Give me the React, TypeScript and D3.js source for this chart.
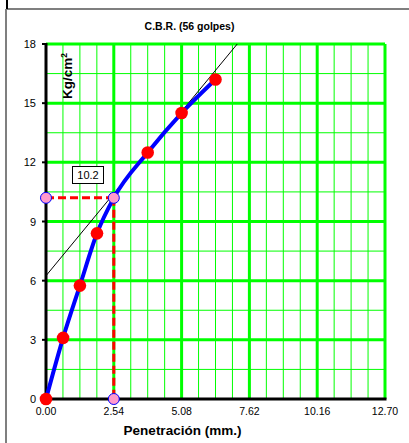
import React from "react";
import * as d3 from "d3";

// CBR test readings: penetration (mm) vs. load (kg/cm²)
const penetration = [0, 0.64, 1.27, 1.91, 3.81, 5.08, 6.35];
const load = [0, 3.1, 5.75, 8.4, 12.5, 14.5, 16.2];

// Value read at the 2.54 mm standard penetration
const cbrPenetration = 2.54;
const cbrLoad = 10.2;

// Corrected tangent line: load = intercept + slope * penetration
const tangentIntercept = 6.25;
const tangentSlope = 1.64;

const xTicks = [0, 2.54, 5.08, 7.62, 10.16, 12.7];
const yTicks = [0, 3, 6, 9, 12, 15, 18];
const xMinorStep = 0.635;
const yMinorStep = 1.5;

const title = "C.B.R. (56 golpes)";
const xTitle = "Penetración (mm.)";

const W = 409;
const H = 443;
const left = 46;
const right = 385;
const top = 44;
const bottom = 399;

const GREEN = "#00ff00";
const FONT = "'Liberation Sans', Arial, sans-serif";

export default function App() {
  const x = d3.scaleLinear().domain([0, 12.7]).range([left, right]);
  const y = d3.scaleLinear().domain([0, 18]).range([bottom, top]);

  const minorX = d3.range(0, 12.7 + 1e-6, xMinorStep).filter(
    (v) => !xTicks.some((t) => Math.abs(t - v) < 1e-6)
  );
  const minorY = d3.range(0, 18 + 1e-6, yMinorStep).filter(
    (v) => !yTicks.some((t) => Math.abs(t - v) < 1e-6)
  );

  // Blue curve passes through the readings and the 2.54 mm value
  const curvePts: [number, number][] = penetration
    .map((p, i) => [p, load[i]] as [number, number])
    .concat([[cbrPenetration, cbrLoad]])
    .sort((a, b) => a[0] - b[0]);
  const curve = d3
    .line<[number, number]>()
    .x((d) => x(d[0]))
    .y((d) => y(d[1]))
    .curve(d3.curveMonotoneX)(curvePts) as string;

  // Tangent line clipped to the plot
  const tx0 = 0;
  const ty0 = tangentIntercept;
  const tx1 = (18 - tangentIntercept) / tangentSlope;
  const ty1 = 18;

  return (
    <svg
      width={W}
      height={H}
      style={{ position: "absolute", left: 0, top: 0, background: "#fff" }}
      fontFamily={FONT}
    >
      {/* sheet frame */}
      <line x1={6} y1={9} x2={W} y2={9} stroke="#7f7f7f" strokeWidth={2} />
      <line x1={6} y1={9} x2={6} y2={H} stroke="#7f7f7f" strokeWidth={2} />
      <line x1={7} y1={0} x2={7} y2={9} stroke="#000" strokeWidth={2} />

      <text x={189.5} y={30} textAnchor="middle" fontSize={10.5} fontWeight="bold" fill="#000">
        {title}
      </text>

      {/* minor grid */}
      {minorX.map((v) => (
        <line key={"mx" + v} x1={x(v)} x2={x(v)} y1={top} y2={bottom} stroke={GREEN} strokeWidth={1} />
      ))}
      {minorY.map((v) => (
        <line key={"my" + v} x1={left} x2={right} y1={y(v)} y2={y(v)} stroke={GREEN} strokeWidth={1} />
      ))}
      {/* major grid */}
      {xTicks.slice(1).map((v) => (
        <line key={"Mx" + v} x1={x(v)} x2={x(v)} y1={top} y2={bottom} stroke={GREEN} strokeWidth={3} />
      ))}
      {yTicks.slice(1).map((v) => (
        <line key={"My" + v} x1={left} x2={right} y1={y(v)} y2={y(v)} stroke={GREEN} strokeWidth={3} />
      ))}

      {/* axes */}
      <line x1={left} x2={left} y1={top - 1} y2={bottom + 1.5} stroke="#000" strokeWidth={3} />
      <line x1={left - 1.5} x2={right + 1.5} y1={bottom} y2={bottom} stroke="#000" strokeWidth={3} />

      {yTicks.map((v) => (
        <g key={"yt" + v}>
          <line x1={left - 4} x2={left} y1={y(v)} y2={y(v)} stroke="#000" strokeWidth={2} />
          <text x={36} y={y(v) + 4} textAnchor="end" fontSize={11} fill="#000">
            {v}
          </text>
        </g>
      ))}
      {xTicks.map((v) => (
        <text key={"xt" + v} x={x(v)} y={415} textAnchor="middle" fontSize={10.5} fill="#000">
          {v.toFixed(2)}
        </text>
      ))}

      <text x={182.5} y={435} textAnchor="middle" fontSize={13.5} fontWeight="bold" fill="#000">
        {xTitle}
      </text>
      <text
        transform={`translate(72,76) rotate(-90)`}
        textAnchor="middle"
        fontSize={13.5}
        fontWeight="bold"
        fill="#000"
      >
        Kg/cm<tspan dy={-5} fontSize={8.5}>2</tspan>
      </text>

      {/* tangent line */}
      <line x1={x(tx0)} y1={y(ty0)} x2={x(tx1)} y2={y(ty1)} stroke="#000" strokeWidth={1} />

      {/* load curve */}
      <path d={curve} fill="none" stroke="#0000ff" strokeWidth={4} strokeLinejoin="round" />

      {/* reading guides at 2.54 mm */}
      <line
        x1={x(0)}
        y1={y(cbrLoad)}
        x2={x(cbrPenetration)}
        y2={y(cbrLoad)}
        stroke="#ff0000"
        strokeWidth={3}
        strokeDasharray="8,4"
      />
      <line
        x1={x(cbrPenetration)}
        y1={y(cbrLoad)}
        x2={x(cbrPenetration)}
        y2={y(0)}
        stroke="#ff0000"
        strokeWidth={3}
        strokeDasharray="8,4"
      />

      {penetration.map((p, i) => (
        <circle key={"pt" + i} cx={x(p)} cy={y(load[i])} r={6.3} fill="#ff0000" />
      ))}

      {[
        [0, cbrLoad],
        [cbrPenetration, cbrLoad],
        [cbrPenetration, 0],
      ].map(([px, py], i) => (
        <circle
          key={"cb" + i}
          cx={x(px)}
          cy={y(py)}
          r={5.5}
          fill="#ff99cc"
          stroke="#0000ff"
          strokeWidth={1}
        />
      ))}

      {/* value label */}
      <rect x={72.5} y={166.5} width={31} height={17} fill="#fff" stroke="#000" strokeWidth={1} />
      <text x={88} y={179} textAnchor="middle" fontSize={11} fill="#000">
        {cbrLoad.toFixed(1)}
      </text>
    </svg>
  );
}
